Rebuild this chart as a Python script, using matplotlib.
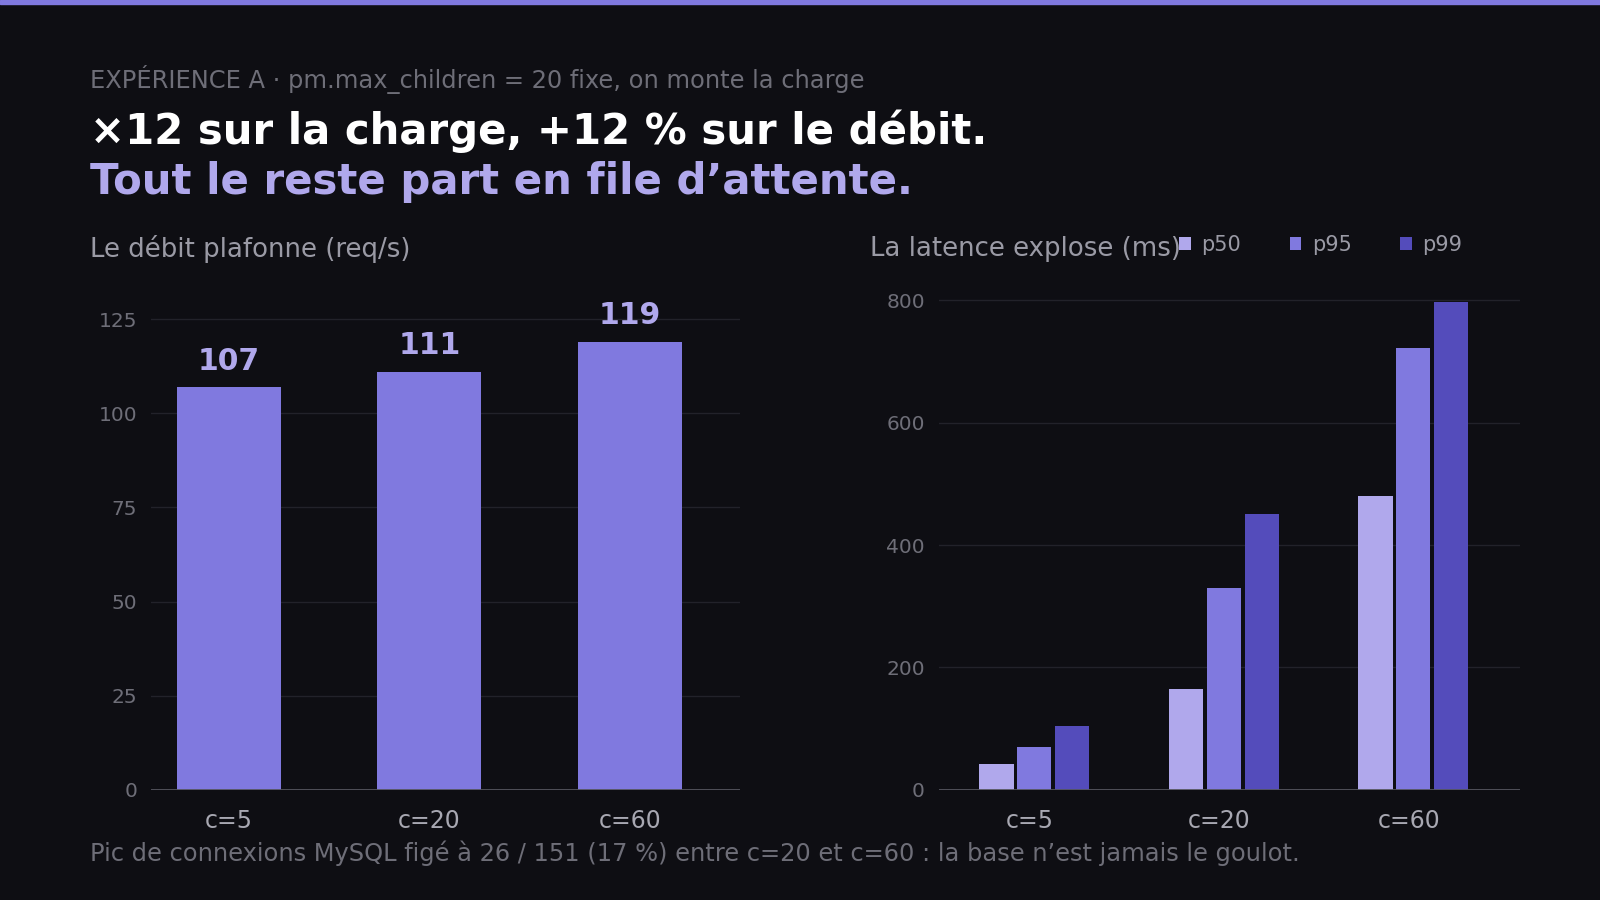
import numpy as np
import matplotlib.pyplot as plt

# data
categories = ['c=5', 'c=20', 'c=60']
debit = [107, 111, 119]
series = ['p50', 'p95', 'p99']
p50 = [42, 165, 480]
p95 = [70, 330, 722]
p99 = [104, 450, 797]
debit_ticks = [0, 25, 50, 75, 100, 125]
lat_ticks = [0, 200, 400, 600, 800]

bg = '#0e0e13'
violet = '#8079df'
colors = ['#b0a8ec', '#8079df', '#544cbb']
grid_c = '#22222a'
tick_c = '#6e6e78'
label_c = '#a8a8b2'

plt.rcParams['font.family'] = ['DejaVu Sans']
fig = plt.figure(figsize=(16, 9), dpi=100, facecolor=bg)

# bande du haut
fig.patches.append(plt.Rectangle((0, 0.9955), 1, 0.0045, transform=fig.transFigure,
                                 color=violet, zorder=5))

fig.text(0.056, 0.912, 'EXPÉRIENCE A · pm.max_children = 20 fixe, on monte la charge',
         color='#6e6e78', fontsize=17.4, va='center')
fig.text(0.056, 0.854, '×12 sur la charge, +12 % sur le débit.',
         color='#ffffff', fontsize=30.2, fontweight='bold', va='center')
fig.text(0.056, 0.798, 'Tout le reste part en file d’attente.',
         color='#b0a8ec', fontsize=30.2, fontweight='bold', va='center')
fig.text(0.056, 0.723, 'Le débit plafonne (req/s)', color='#9a9aa5', fontsize=18.7, va='center')
fig.text(0.544, 0.723, 'La latence explose (ms)', color='#9a9aa5', fontsize=18.7, va='center')
fig.text(0.056, 0.052,
         'Pic de connexions MySQL figé à 26 / 151 (17 %) entre c=20 et c=60 : la base n’est jamais le goulot.',
         color='#6e6e78', fontsize=17.4, va='center')


def style(ax, ticks, ymax):
    ax.set_facecolor(bg)
    for s in ax.spines.values():
        s.set_visible(False)
    ax.set_ylim(0, ymax)
    ax.set_yticks(ticks)
    ax.grid(axis='y', color=grid_c, linewidth=1)
    ax.set_axisbelow(True)
    ax.axhline(0, color='#55555e', linewidth=2, zorder=4)
    ax.tick_params(axis='y', colors=tick_c, labelsize=14.5, length=0, pad=10)
    ax.tick_params(axis='x', colors=label_c, labelsize=17, length=0, pad=13.5)


# débit
ax1 = fig.add_axes([0.0944, 0.1224, 0.368, 0.544])
x = np.arange(len(categories))
ax1.bar(x, debit, width=0.52, color=violet, zorder=3)
for xi, v in zip(x, debit):
    ax1.text(xi, v + 3, str(v), ha='center', va='bottom', color='#b0a8ec',
             fontsize=21.5, fontweight='bold')
ax1.set_xlim(-0.39, 2.55)
ax1.set_xticks(x)
ax1.set_xticklabels(categories)
style(ax1, debit_ticks, 130)

# latence
ax2 = fig.add_axes([0.5867, 0.1224, 0.3636, 0.5576])
w = 0.18
for i, (name, vals) in enumerate(zip(series, [p50, p95, p99])):
    ax2.bar(x + 0.025 + (i - 1) * 0.2, vals, width=w, color=colors[i], zorder=3, label=name)
ax2.set_xlim(-0.48, 2.59)
ax2.set_xticks(x)
ax2.set_xticklabels(categories)
style(ax2, lat_ticks, 820)

fig.legend(*ax2.get_legend_handles_labels(), loc='center left',
           bbox_to_anchor=(0.737, 0.728), ncol=3, frameon=False,
           labelcolor='#9a9aa5', fontsize=15, handlelength=0.55, handleheight=0.55,
           columnspacing=2.35, handletextpad=0.5, borderaxespad=0, borderpad=0)

fig.savefig('out.png', dpi=100, facecolor=bg)
